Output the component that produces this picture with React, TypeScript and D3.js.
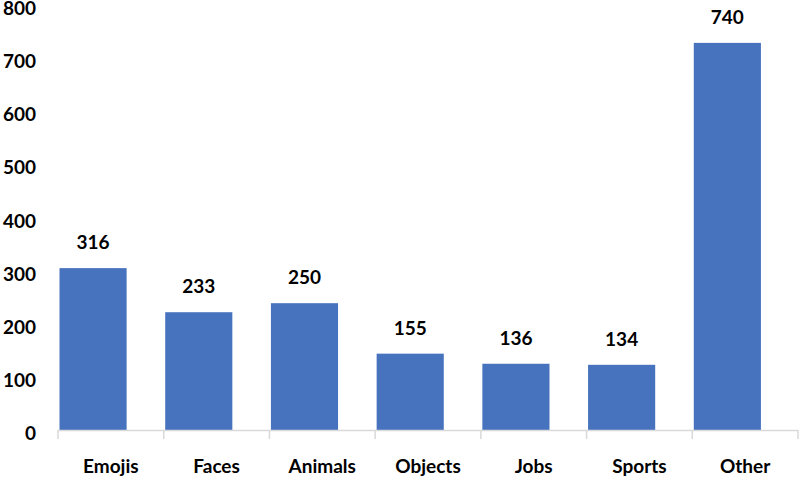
import React from "react";
import * as d3 from "d3";

const categories = ["Emojis", "Faces", "Animals", "Objects", "Jobs", "Sports", "Other"];
const values = [316, 233, 250, 155, 136, 134, 740];
const yTicks = [0, 100, 200, 300, 400, 500, 600, 700, 800];

const W = 800;
const H = 477;
const FONT = "Lato, 'Open Sans', sans-serif";

export default function App() {
  const axisX0 = 58;
  const axisX1 = 798;
  const axisY = 430;
  const x = d3.scaleBand<string>().domain(categories).range([axisX0, axisX1]).paddingInner(0).paddingOuter(0);
  const y = d3.scaleLinear().domain([0, 800]).range([436, 11]);
  const bw = x.bandwidth();
  const barW = bw * 0.635;
  const barOff = 1.5;
  const boundaries = [...categories.map((c) => x(c) as number), axisX1];

  return (
    <svg width={W} height={H} style={{ position: "absolute", left: 0, top: 0, background: "#fff" }}>
      <rect width={W} height={H} fill="#fff" />
      {yTicks.map((t) => (
        <text
          key={t}
          x={36}
          y={y(t) + 4}
          textAnchor="end"
          fontFamily={FONT}
          fontWeight={700}
          fontSize={19}
          fill="#000"
        >
          {t}
        </text>
      ))}
      {categories.map((c, i) => {
        const bx = (x(c) as number) + barOff;
        const top = y(values[i]);
        return (
          <g key={c}>
            <rect x={bx} y={top} width={barW} height={axisY - top} fill="#4772BE" />
            <text
              x={bx + barW / 2}
              y={top - 19}
              textAnchor="middle"
              fontFamily={FONT}
              fontWeight={700}
              fontSize={19}
              fill="#000"
            >
              {values[i]}
            </text>
            <text
              x={(x(c) as number) + bw / 2}
              y={473}
              textAnchor="middle"
              fontFamily={FONT}
              fontWeight={700}
              fontSize={19}
              fill="#000"
            >
              {c}
            </text>
          </g>
        );
      })}
      <line x1={axisX0} x2={axisX1} y1={axisY + 0.5} y2={axisY + 0.5} stroke="#d9d9d9" strokeWidth={1.5} />
      {boundaries.map((bx, i) => (
        <line key={i} x1={bx} x2={bx} y1={axisY} y2={axisY + 9} stroke="#d9d9d9" strokeWidth={1.5} />
      ))}
    </svg>
  );
}
